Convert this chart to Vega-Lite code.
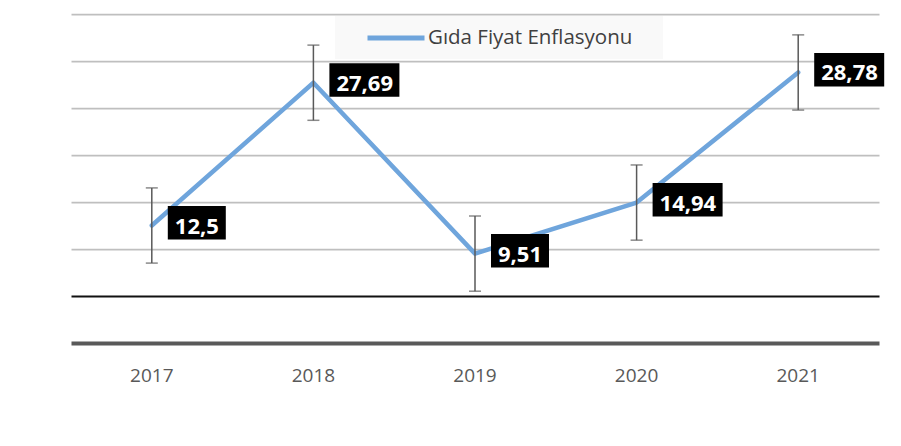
{
  "$schema": "https://vega.github.io/schema/vega-lite/v6.json",
  "width": 808,
  "height": 329,
  "autosize": {"type": "none"},
  "padding": {"left": 71, "top": 14, "right": 22, "bottom": 103},
  "background": "white",
  "config": {
    "view": {"stroke": null},
    "font": "Open Sans",
    "locale": {"number": {"decimal": ",", "thousands": ".", "grouping": [3], "currency": ["", " TL"]}}
  },
  "data": {
    "values": [
      {"year": "2017", "value": 12.5, "lo": 8.5, "hi": 16.5},
      {"year": "2018", "value": 27.69, "lo": 23.69, "hi": 31.69},
      {"year": "2019", "value": 9.51, "lo": 5.51, "hi": 13.51},
      {"year": "2020", "value": 14.94, "lo": 10.94, "hi": 18.94},
      {"year": "2021", "value": 28.78, "lo": 24.78, "hi": 32.78}
    ]
  },
  "encoding": {
    "x": {
      "field": "year",
      "type": "ordinal",
      "title": null,
      "axis": {
        "labelAngle": 0,
        "labelFont": "Open Sans",
        "labelFontSize": 19,
        "labelColor": "#595959",
        "labelPadding": 23,
        "ticks": false,
        "tickSize": 0,
        "domainColor": "#595959",
        "domainWidth": 4,
        "grid": false
      }
    }
  },
  "layer": [
    {
      "mark": {"type": "line", "strokeWidth": 4.5, "strokeCap": "round", "strokeJoin": "round"},
      "encoding": {
        "y": {
          "field": "value",
          "type": "quantitative",
          "title": null,
          "scale": {"domain": [0, 35], "nice": false, "zero": true},
          "axis": {
            "values": [5, 10, 15, 20, 25, 30, 35],
            "labels": false,
            "ticks": false,
            "domain": false,
            "grid": true,
            "gridColor": {"condition": {"test": "datum.value === 5", "value": "#111111"}, "value": "#bfbfbf"},
            "gridWidth": {"condition": {"test": "datum.value === 5", "value": 2}, "value": 1.75}
          }
        },
        "color": {
          "datum": "Gıda Fiyat Enflasyonu",
          "type": "nominal",
          "scale": {"range": ["#6FA5DC"]},
          "legend": {
            "title": "\u00a0",
            "titleOrient": "right",
            "titleFontSize": 4,
            "titlePadding": 21,
            "orient": "none",
            "legendX": 264,
            "legendY": 2,
            "padding": 10,
            "fillColor": "#f9f9f9",
            "symbolType": "M-3,0H3",
            "symbolSize": 361,
            "symbolStrokeWidth": 5,
            "symbolOffset": 39,
            "labelOffset": 20,
            "labelLimit": 500,
            "labelFont": "Open Sans",
            "labelFontSize": 20.5,
            "labelColor": "#404040"
          }
        }
      }
    },
    {
      "mark": {"type": "rule", "color": "#595959", "strokeWidth": 1.5},
      "encoding": {
        "y": {"field": "lo", "type": "quantitative"},
        "y2": {"field": "hi"}
      }
    },
    {
      "mark": {"type": "tick", "color": "#595959", "thickness": 1.5, "size": 12, "orient": "horizontal"},
      "encoding": {"y": {"field": "lo", "type": "quantitative"}}
    },
    {
      "mark": {"type": "tick", "color": "#595959", "thickness": 1.5, "size": 12, "orient": "horizontal"},
      "encoding": {"y": {"field": "hi", "type": "quantitative"}}
    },
    {
      "mark": {"type": "point", "filled": true, "opacity": 1, "size": 400, "color": "black", "strokeWidth": 0},
      "encoding": {
        "y": {"field": "value", "type": "quantitative"},
        "shape": {
          "field": "year",
          "type": "nominal",
          "legend": null,
          "scale": {
            "domain": ["2017", "2018", "2019", "2020", "2021"],
            "range": [
              "M1.6,-1.95H7.4V1.4H1.6Z",
              "M1.6,-1.95H8.6V1.4H1.6Z",
              "M1.6,-1.95H7.4V1.4H1.6Z",
              "M1.6,-1.95H8.6V1.4H1.6Z",
              "M1.6,-1.95H8.6V1.4H1.6Z"
            ]
          }
        }
      }
    },
    {
      "mark": {"type": "text", "align": "left", "baseline": "middle", "dx": 23, "dy": 1, "font": "Open Sans", "fontWeight": "bold", "fontSize": 22, "color": "white"},
      "encoding": {
        "y": {"field": "value", "type": "quantitative"},
        "text": {"field": "value", "type": "quantitative", "format": ".2~f"}
      }
    }
  ]
}
